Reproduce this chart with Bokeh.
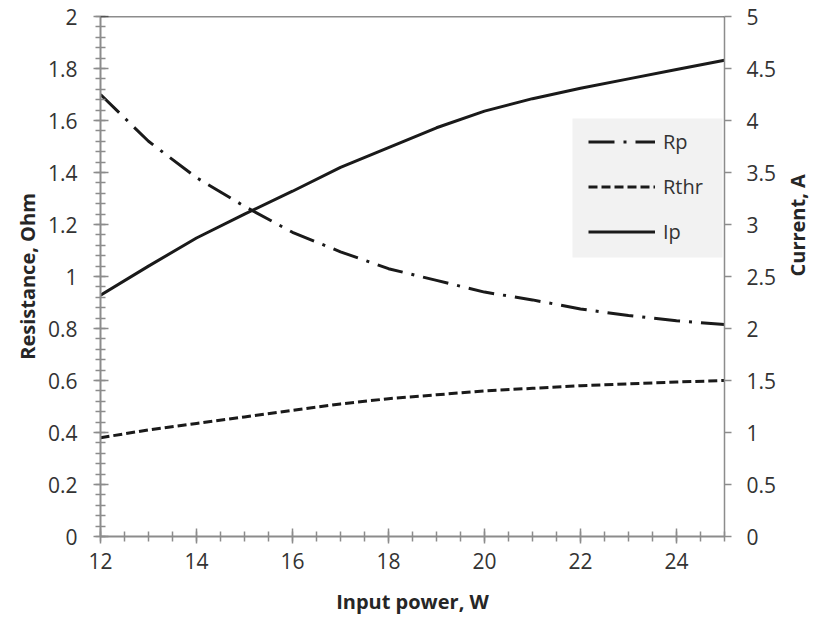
import math
from bokeh.plotting import figure
from bokeh.models import (Range1d, LinearAxis, Span, Legend, LegendItem,
                          FixedTicker, SingleIntervalTicker, BoxAnnotation)
from bokeh.embed import file_html
from bokeh.resources import INLINE

# ---- data ----
power = [12, 13, 14, 15, 16, 17, 18, 19, 20, 21, 22, 23, 24, 25]
rp = [1.70, 1.52, 1.38, 1.27, 1.17, 1.095, 1.03, 0.985, 0.94, 0.91, 0.875, 0.85, 0.83, 0.815]
rthr = [0.38, 0.41, 0.435, 0.46, 0.485, 0.51, 0.53, 0.545, 0.56, 0.57, 0.58, 0.587, 0.594, 0.60]
ip = [2.32, 2.60, 2.87, 3.10, 3.32, 3.55, 3.74, 3.93, 4.09, 4.21, 4.31, 4.40, 4.49, 4.58]
x_ticks = [12, 14, 16, 18, 20, 22, 24]
left_ticks = [0, 0.2, 0.4, 0.6, 0.8, 1, 1.2, 1.4, 1.6, 1.8, 2]
right_ticks = [0, 0.5, 1, 1.5, 2, 2.5, 3, 3.5, 4, 4.5, 5]

FONT = "Open Sans"
AXIS_GRAY = "#8c8c8c"
TXT = "#333333"
LINE = "#1a1a1a"

p = figure(frame_width=624, frame_height=520, output_backend="svg", toolbar_location=None,
           x_range=Range1d(12, 25), y_range=Range1d(0, 2),
           min_border_left=100, min_border_right=95, min_border_top=16,
           min_border_bottom=83)
p.extra_y_ranges = {"cur": Range1d(0, 5)}
p.outline_line_color = None
p.xgrid.visible = False
p.ygrid.visible = False
p.background_fill_color = "white"
p.border_fill_color = "white"

def style_axis(ax):
    ax.axis_line_color = AXIS_GRAY
    ax.axis_line_width = 2
    ax.major_tick_line_color = AXIS_GRAY
    ax.minor_tick_line_color = AXIS_GRAY
    ax.major_tick_line_width = 1.5
    ax.minor_tick_line_width = 1.5
    ax.major_label_text_font = FONT
    ax.major_label_text_font_size = "21px"
    ax.major_label_text_color = TXT
    ax.axis_label_text_font = FONT
    ax.axis_label_text_font_size = "20px"
    ax.axis_label_text_font_style = "bold"
    ax.axis_label_text_color = "#262626"

# x axis
xa = p.xaxis[0]
style_axis(xa)
xa.ticker = SingleIntervalTicker(interval=2, num_minor_ticks=4)
xa.major_tick_in = 8
xa.major_tick_out = 7
xa.minor_tick_in = 5
xa.minor_tick_out = 5
xa.major_label_standoff = 9
xa.axis_label = "Input power, W"
xa.axis_label_standoff = 16

# left axis
ya = p.yaxis[0]
style_axis(ya)
ya.ticker = SingleIntervalTicker(interval=0.2, num_minor_ticks=5)
ya.major_tick_in = 8
ya.major_tick_out = 7
ya.minor_tick_in = 5
ya.minor_tick_out = 5
ya.major_label_standoff = 16
ya.axis_label = "Resistance, Ohm"
ya.axis_label_standoff = 4
ya.formatter.use_scientific = False

# right axis
ra = LinearAxis(y_range_name="cur", axis_label="Current, A")
style_axis(ra)
ra.ticker = FixedTicker(ticks=right_ticks)
ra.major_tick_in = 0
ra.major_tick_out = 7
ra.minor_tick_line_color = None
ra.major_label_standoff = 15
ra.axis_label_standoff = 18
ra.axis_line_width = 1.5
ra.axis_label_orientation = math.pi / 2
p.add_layout(ra, "right")

# top border line at y = 2
p.add_layout(Span(location=2, dimension="width", line_color="#1a1a1a", line_width=1.5))

# legend background panel (screen position, relative to plot frame)
p.add_layout(BoxAnnotation(left=472, right=622, bottom=279, top=418,
                           left_units="screen", right_units="screen",
                           top_units="screen", bottom_units="screen",
                           fill_color="#f2f2f2", fill_alpha=1, line_color=None,
                           level="overlay"))

r_rp = p.line(power, rp, line_color=LINE, line_width=3, line_dash="26 9 3 9")
r_rthr = p.line(power, rthr, line_color=LINE, line_width=3, line_dash="9 4")
r_ip = p.line(power, ip, line_color=LINE, line_width=3, y_range_name="cur")

legend = Legend(items=[LegendItem(label="Rp", renderers=[r_rp]),
                       LegendItem(label="Rthr", renderers=[r_rthr]),
                       LegendItem(label="Ip", renderers=[r_ip])],
                location=(488, 291))
legend.background_fill_alpha = 0
legend.border_line_color = None
legend.label_text_font = FONT
legend.label_text_font_size = "20px"
legend.label_text_color = TXT
legend.glyph_width = 67
legend.glyph_height = 23
legend.label_height = 23
legend.label_standoff = 8
legend.spacing = 18
legend.padding = 0
legend.margin = 0
legend.level = "overlay"
p.add_layout(legend, "center")

open("out.html", "w").write(file_html(p, INLINE))
